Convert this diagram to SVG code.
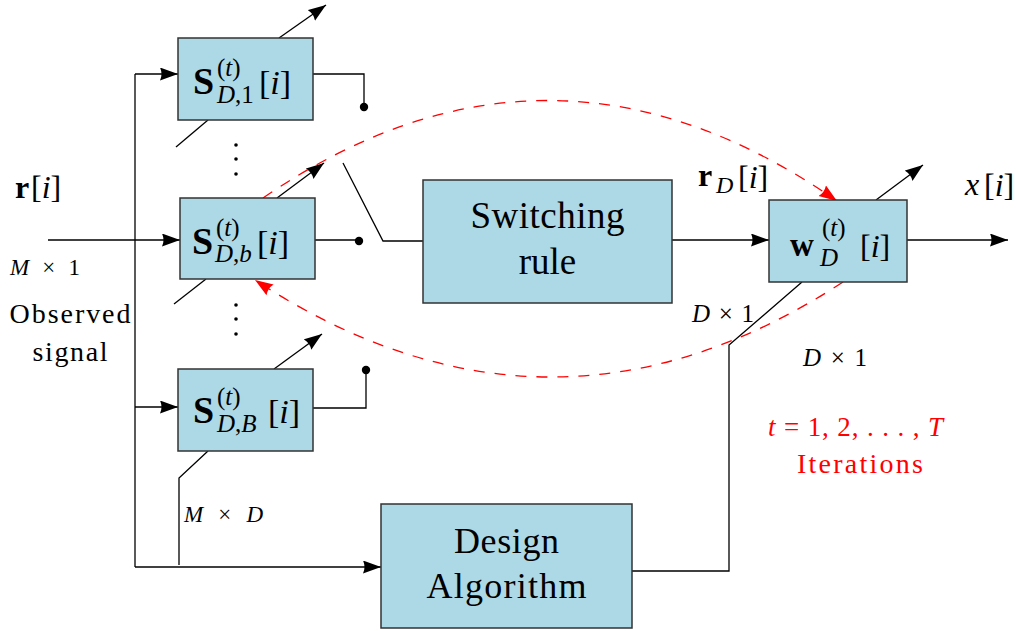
<svg xmlns="http://www.w3.org/2000/svg" width="1016" height="631" viewBox="0 0 1016 631">
<style>
.box{fill:#add8e6;stroke:#333;stroke-width:1.5}
.ln{fill:none;stroke:#000;stroke-width:1.3}
.red{fill:none;stroke:#f00;stroke-width:1.3;stroke-dasharray:11 10}
text{font-family:"Liberation Serif","Times New Roman",serif;fill:#000}
.it{font-style:italic}
.bf{font-weight:bold}
.rt{fill:#f00}
</style>
<defs>
<marker id="ah" markerUnits="userSpaceOnUse" markerWidth="19" markerHeight="14" refX="18" refY="6.5" orient="auto" viewBox="0 0 19 14">
<path d="M0,0 Q3,6.5 0,13 L18,6.5 Z" fill="#000"/>
</marker>
<marker id="ahr" markerUnits="userSpaceOnUse" markerWidth="19" markerHeight="14" refX="18" refY="6.5" orient="auto" viewBox="0 0 19 14">
<path d="M0,0 Q3,6.5 0,13 L18,6.5 Z" fill="#f00"/>
</marker>
</defs>
<rect width="1016" height="631" fill="#fff"/>

<g id="connectors">
<path class="ln" d="M48,240 H180" marker-end="url(#ah)"/>
<path class="ln" d="M135,74 V567"/>
<path class="ln" d="M135,74 H178" marker-end="url(#ah)"/>
<path class="ln" d="M135,407 H178" marker-end="url(#ah)"/>
<path class="ln" d="M135,567 H381" marker-end="url(#ah)"/>
<path class="ln" d="M279,38 L326,5" marker-end="url(#ah)"/>
<path class="ln" d="M277,198 L324,163" marker-end="url(#ah)"/>
<path class="ln" d="M274,369 L322,334" marker-end="url(#ah)"/>
<path class="ln" d="M876,200 L923,165" marker-end="url(#ah)"/>
<path class="ln" d="M208,120 L176,147"/>
<path class="ln" d="M206,279 L174,304"/>
<path class="ln" d="M208,451 L179,478 V565"/>
<path class="ln" d="M632,571 H729 V345 L802,282"/>
<path class="ln" d="M313,74 H364 V107"/>
<path class="ln" d="M315,240 H359"/>
<path class="ln" d="M313,408 H366 V370"/>
<circle cx="364" cy="107" r="4.2"/>
<circle cx="359" cy="241" r="4.2"/>
<circle cx="366" cy="370" r="4.2"/>
<path class="ln" d="M343,163 L383,241 H423"/>
<path class="ln" d="M672,240 H769" marker-end="url(#ah)"/>
<path class="ln" d="M907,240 H1008" marker-end="url(#ah)"/>
<path class="red" d="M263,198 Q550,1.5 837,201" marker-end="url(#ahr)"/>
<path class="red" d="M843,282 Q550,473 255,280" marker-end="url(#ahr)"/>
<g id="vdots">
<circle cx="236" cy="145" r="1.8"/>
<circle cx="236" cy="159" r="1.8"/>
<circle cx="236" cy="174" r="1.8"/>
<circle cx="236" cy="305" r="1.8"/>
<circle cx="236" cy="319" r="1.8"/>
<circle cx="236" cy="334" r="1.8"/>
</g>
</g>

<g id="S1">
<rect class="box" x="178" y="38" width="135" height="82"/>
<text font-size="25"><tspan x="193" y="94" font-size="38" class="bf">S</tspan><tspan x="217" y="76">(<tspan class="it">t</tspan>)</tspan><tspan x="217" y="103"><tspan class="it">D</tspan>,1</tspan><tspan x="259" y="94" font-size="34">[<tspan class="it">i</tspan>]</tspan></text>
</g>

<g id="Sb">
<rect class="box" x="180" y="198" width="135" height="81"/>
<text font-size="25"><tspan x="192" y="254" font-size="38" class="bf">S</tspan><tspan x="216" y="236">(<tspan class="it">t</tspan>)</tspan><tspan x="215" y="262"><tspan class="it">D</tspan>,<tspan class="it">b</tspan></tspan><tspan x="257" y="254" font-size="34">[<tspan class="it">i</tspan>]</tspan></text>
</g>

<g id="SB">
<rect class="box" x="178" y="369" width="135" height="82"/>
<text font-size="25"><tspan x="193" y="423" font-size="38" class="bf">S</tspan><tspan x="217" y="405">(<tspan class="it">t</tspan>)</tspan><tspan x="217" y="432"><tspan class="it">D</tspan>,<tspan class="it">B</tspan></tspan><tspan x="268" y="423" font-size="34">[<tspan class="it">i</tspan>]</tspan></text>
</g>

<g id="switching">
<rect class="box" x="423" y="180" width="249" height="123"/>
<text x="547.5" y="228" font-size="37" text-anchor="middle" textLength="154">Switching</text>
<text x="547.5" y="274" font-size="37" text-anchor="middle">rule</text>
</g>

<g id="w">
<rect class="box" x="769" y="200" width="138" height="82"/>
<text font-size="25"><tspan x="790" y="256" font-size="33" class="bf">w</tspan><tspan x="822" y="236">(<tspan class="it">t</tspan>)</tspan><tspan x="820" y="266" class="it">D</tspan><tspan x="860" y="257" font-size="32">[<tspan class="it">i</tspan>]</tspan></text>
</g>

<g id="design">
<rect class="box" x="381" y="504" width="251" height="124"/>
<text x="506.5" y="553" font-size="36" text-anchor="middle" textLength="105">Design</text>
<text x="506.5" y="598" font-size="36" text-anchor="middle" textLength="160">Algorithm</text>
</g>

<g id="labels">
<text font-size="32"><tspan x="15" y="198" class="bf">r</tspan><tspan x="31" y="198">[<tspan class="it">i</tspan>]</tspan></text>
<text x="10" y="275" font-size="23" textLength="70"><tspan class="it">M</tspan> × 1</text>
<text x="70" y="323" font-size="28" text-anchor="middle" textLength="121">Observed</text>
<text x="70" y="361" font-size="28" text-anchor="middle" textLength="75">signal</text>
<text x="184" y="522" font-size="23" textLength="79"><tspan class="it">M</tspan> × <tspan class="it">D</tspan></text>
<text font-size="32"><tspan x="698" y="186" class="bf">r</tspan><tspan x="716" y="193" font-size="24" class="it">D</tspan><tspan x="738" y="188">[<tspan class="it">i</tspan>]</tspan></text>
<text font-size="32"><tspan x="965" y="195" class="it">x</tspan><tspan x="984" y="196">[<tspan class="it">i</tspan>]</tspan></text>
<text x="692" y="322" font-size="25" textLength="62"><tspan class="it">D</tspan> × 1</text>
<text x="803" y="366" font-size="25" textLength="64"><tspan class="it">D</tspan> × 1</text>
<text x="768" y="436" font-size="27" class="rt" textLength="175"><tspan class="it">t</tspan> = 1, 2, . . . , <tspan class="it">T</tspan></text>
<text x="860" y="473" font-size="28" class="rt" text-anchor="middle" textLength="126">Iterations</text>
</g>
</svg>
